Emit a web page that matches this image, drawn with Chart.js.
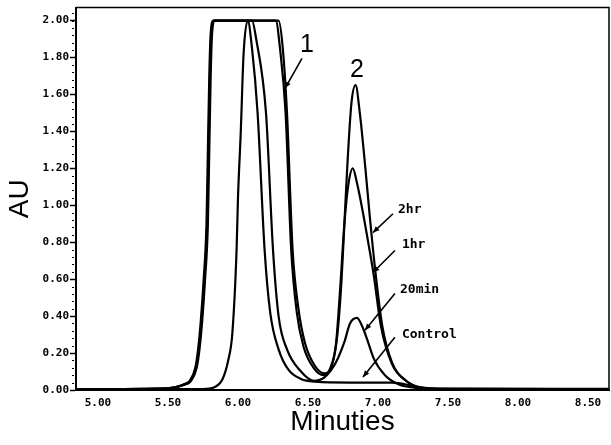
<!DOCTYPE html>
<html>
<head>
<meta charset="utf-8">
<script src="https://cdn.jsdelivr.net/npm/chart.js@4.4.0/dist/chart.umd.min.js"></script>
<style>
  html, body { margin: 0; padding: 0; background: #fff; }
  #wrap { width: 611px; height: 445px; }
</style>
</head>
<body>
<div id="wrap"><canvas id="chart"></canvas></div>
<script>
// tick values
const xTicks = [5.0, 5.5, 6.0, 6.5, 7.0, 7.5, 8.0, 8.5];
const yTicks = [0, 0.2, 0.4, 0.6, 0.8, 1.0, 1.2, 1.4, 1.6, 1.8, 2.0];

// traces: [minutes, AU]
const control = [
    [4.85, 0.005], [5.75, 0.005], [5.83, 0.015], [5.89, 0.06], [5.93, 0.16], [5.96, 0.31],
    [5.99, 0.76], [6.00, 1.04], [6.02, 1.4], [6.04, 1.82], [6.07, 2.0], [6.10, 1.85],
    [6.14, 1.5], [6.19, 0.76], [6.23, 0.42], [6.29, 0.22], [6.36, 0.11], [6.45, 0.06],
    [6.55, 0.045], [6.8, 0.04], [7.1, 0.04], [7.2, 0.03], [7.28, 0.012], [7.4, 0.005], [8.65, 0.005]
];
const min20 = [
    [4.85, 0.005], [5.45, 0.008], [5.55, 0.015], [5.62, 0.03], [5.665, 0.05], [5.705, 0.12],
    [5.725, 0.22], [5.745, 0.38], [5.765, 0.6], [5.785, 0.9], [5.795, 1.3], [5.805, 1.7],
    [5.815, 1.93], [5.835, 2.0], [6.10, 2.0], [6.13, 1.9], [6.20, 1.5], [6.25, 0.76],
    [6.29, 0.4], [6.35, 0.22], [6.45, 0.1], [6.54, 0.05], [6.62, 0.07], [6.70, 0.15],
    [6.76, 0.26], [6.80, 0.36], [6.85, 0.39], [6.89, 0.34], [6.92, 0.28], [6.97, 0.17],
    [7.05, 0.08], [7.15, 0.03], [7.30, 0.01], [7.5, 0.005], [8.65, 0.005]
];
const hr1 = [
    [4.85, 0.005], [5.45, 0.008], [5.55, 0.015], [5.62, 0.03], [5.66, 0.05], [5.70, 0.12],
    [5.72, 0.22], [5.74, 0.38], [5.76, 0.6], [5.78, 0.9], [5.79, 1.3], [5.80, 1.7],
    [5.81, 1.93], [5.83, 2.0], [6.27, 2.0], [6.30, 1.85], [6.34, 1.5], [6.38, 0.76],
    [6.42, 0.42], [6.47, 0.23], [6.54, 0.12], [6.61, 0.08], [6.66, 0.12], [6.70, 0.25],
    [6.73, 0.55], [6.76, 0.9], [6.79, 1.12], [6.82, 1.2], [6.85, 1.12], [6.89, 0.97],
    [6.93, 0.8], [6.97, 0.62], [7.02, 0.35], [7.10, 0.14], [7.20, 0.05], [7.30, 0.015],
    [7.5, 0.006], [8.65, 0.005]
];
const hr2 = [
    [4.85, 0.005], [5.45, 0.008], [5.55, 0.015], [5.61, 0.03], [5.655, 0.05], [5.695, 0.12],
    [5.715, 0.22], [5.735, 0.38], [5.755, 0.6], [5.775, 0.9], [5.785, 1.3], [5.795, 1.7],
    [5.805, 1.93], [5.825, 2.0], [6.29, 2.0], [6.32, 1.85], [6.35, 1.5], [6.39, 0.76],
    [6.43, 0.45], [6.48, 0.25], [6.55, 0.13], [6.62, 0.09], [6.67, 0.13], [6.71, 0.3],
    [6.74, 0.6], [6.76, 0.9], [6.78, 1.2], [6.81, 1.55], [6.84, 1.65], [6.87, 1.5],
    [6.91, 1.2], [6.94, 0.95], [6.98, 0.65], [7.03, 0.35], [7.10, 0.15], [7.20, 0.05],
    [7.30, 0.015], [7.5, 0.008], [8.65, 0.006]
];

// callouts: text, text anchor [min, AU], arrow from -> to [min, AU]
const peakLabels = [
    { text: '1', at: [6.493, 1.865], from: [6.457, 1.795], to: [6.336, 1.633] },
    { text: '2', at: [6.85, 1.73] }
];
const traceLabels = [
    { text: '2hr', at: [7.143, 0.976], from: [7.107, 0.954], to: [6.964, 0.852] },
    { text: '1hr', at: [7.171, 0.787], from: [7.121, 0.755], to: [6.964, 0.636] },
    { text: '20min', at: [7.157, 0.544], from: [7.121, 0.523], to: [6.907, 0.323] },
    { text: 'Control', at: [7.171, 0.302], from: [7.121, 0.286], to: [6.893, 0.07] }
];

const toPts = arr => arr.map(p => ({ x: p[0], y: p[1] }));
const tickFont = { family: 'DejaVu Sans Mono', size: 11, weight: 'bold' };

function lineSet(label, arr) {
    return {
        label: label,
        data: toPts(arr),
        borderColor: '#000',
        borderWidth: 2.2,
        pointRadius: 0,
        fill: false,
        cubicInterpolationMode: 'monotone'
    };
}

function arrow(ctx, x1, y1, x2, y2) {
    ctx.beginPath();
    ctx.moveTo(x1, y1);
    ctx.lineTo(x2, y2);
    ctx.stroke();
    const a = Math.atan2(y2 - y1, x2 - x1);
    const L = 7, w = 0.4;
    ctx.beginPath();
    ctx.moveTo(x2, y2);
    ctx.lineTo(x2 - L * Math.cos(a - w), y2 - L * Math.sin(a - w));
    ctx.lineTo(x2 - L * Math.cos(a + w), y2 - L * Math.sin(a + w));
    ctx.closePath();
    ctx.fill();
}

// frame, minor ticks and callouts
const decor = {
    id: 'decor',
    afterDraw(chart) {
        const { ctx, chartArea: a, scales: { x, y } } = chart;
        ctx.save();
        ctx.strokeStyle = '#000';
        ctx.fillStyle = '#000';
        ctx.lineWidth = 1.5;
        ctx.beginPath();
        ctx.moveTo(a.left, a.top);
        ctx.lineTo(a.right, a.top);
        ctx.lineTo(a.right, a.bottom);
        ctx.stroke();

        // minor ticks on the AU axis
        ctx.lineWidth = 1;
        for (let v = 0.04; v < 2.06; v += 0.04) {
            const py = Math.round(y.getPixelForValue(v)) + 0.5;
            ctx.beginPath();
            ctx.moveTo(a.left - 4, py);
            ctx.lineTo(a.left - 2, py);
            ctx.stroke();
        }

        ctx.lineWidth = 1.6;
        ctx.textBaseline = 'middle';
        ctx.textAlign = 'center';
        ctx.font = '25px "Liberation Sans"';
        peakLabels.forEach(l => {
            ctx.fillText(l.text, x.getPixelForValue(l.at[0]), y.getPixelForValue(l.at[1]));
            if (l.from) {
                arrow(ctx, x.getPixelForValue(l.from[0]), y.getPixelForValue(l.from[1]),
                    x.getPixelForValue(l.to[0]), y.getPixelForValue(l.to[1]));
            }
        });
        ctx.textAlign = 'left';
        ctx.font = 'bold 13px "DejaVu Sans Mono"';
        traceLabels.forEach(l => {
            ctx.fillText(l.text, x.getPixelForValue(l.at[0]), y.getPixelForValue(l.at[1]));
            arrow(ctx, x.getPixelForValue(l.from[0]), y.getPixelForValue(l.from[1]),
                x.getPixelForValue(l.to[0]), y.getPixelForValue(l.to[1]));
        });
        ctx.restore();
    }
};

new Chart(document.getElementById('chart'), {
    type: 'line',
    data: {
        datasets: [
            lineSet('Control', control),
            lineSet('20min', min20),
            lineSet('1hr', hr1),
            lineSet('2hr', hr2)
        ]
    },
    options: {
        responsive: true,
        maintainAspectRatio: false,
        animation: false,
        layout: { padding: { top: 6, right: 2, left: 0, bottom: 6 } },
        plugins: {
            legend: { display: false },
            tooltip: { enabled: false }
        },
        scales: {
            x: {
                type: 'linear',
                min: 4.843,
                max: 8.65,
                afterBuildTicks: s => { s.ticks = xTicks.map(v => ({ value: v })); },
                afterFit: s => { s.height = 49; },
                grid: { display: false, drawTicks: false },
                border: { color: '#000', width: 2 },
                ticks: {
                    color: '#000',
                    font: tickFont,
                    padding: 7,
                    maxRotation: 0,
                    callback: v => Number(v).toFixed(2)
                },
                title: {
                    display: true,
                    text: 'Minuties',
                    color: '#000',
                    font: { family: 'Liberation Sans', size: 28 },
                    padding: { top: 0, bottom: 0 }
                }
            },
            y: {
                min: 0,
                max: 2.07,
                afterBuildTicks: s => { s.ticks = yTicks.map(v => ({ value: v })); },
                afterFit: s => { s.width = 76; },
                grid: { drawOnChartArea: false, drawTicks: true, tickLength: 6, color: '#000', tickWidth: 1.5 },
                border: { color: '#000', width: 2 },
                ticks: {
                    color: '#000',
                    font: tickFont,
                    padding: 1,
                    callback: v => Number(v).toFixed(2)
                },
                title: {
                    display: true,
                    text: 'AU',
                    color: '#000',
                    font: { family: 'Liberation Sans', size: 28 },
                    padding: { top: 3, bottom: 0 }
                }
            }
        }
    },
    plugins: [decor]
});
</script>
</body>
</html>
